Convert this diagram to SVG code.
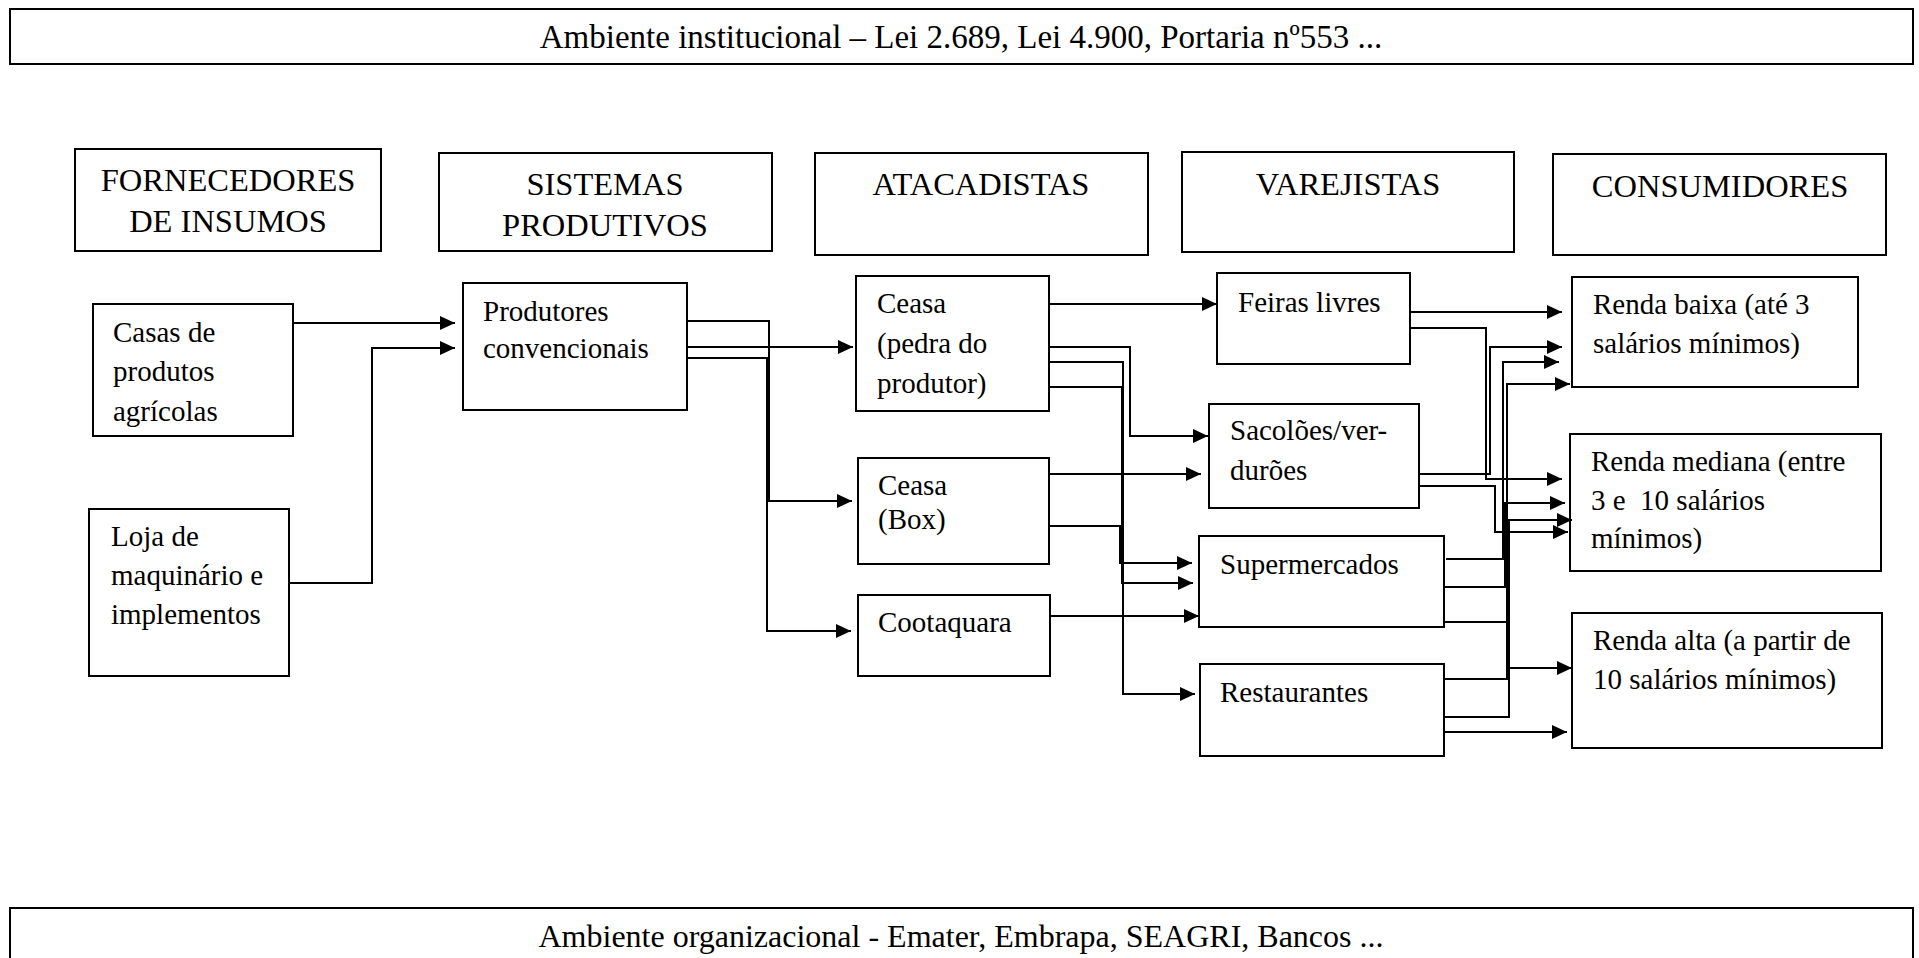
<svg xmlns="http://www.w3.org/2000/svg" width="1919" height="958" viewBox="0 0 1919 958">
<defs>
<style>
.b{fill:#fff;stroke:#000;stroke-width:2}
.t{font-family:"Liberation Serif","Times New Roman",serif;font-size:29px;fill:#000}
.h{font-family:"Liberation Serif","Times New Roman",serif;font-size:32.5px;fill:#000;text-anchor:middle}
.e{font-family:"Liberation Serif","Times New Roman",serif;fill:#000;text-anchor:middle}
.c{fill:none;stroke:#000;stroke-width:2}
.a{marker-end:url(#ar)}
</style>
<marker id="ar" markerUnits="userSpaceOnUse" markerWidth="16" markerHeight="14" refX="15" refY="7" orient="auto">
<path d="M0,0 L15,7 L0,14 z" fill="#000"/>
</marker>
</defs>
<rect width="1919" height="958" fill="#fff"/>

<g id="ambiente-institucional">
<rect class="b" x="10" y="9" width="1903" height="55"/>
<text class="e" x="961" y="48" font-size="33">Ambiente institucional – Lei 2.689, Lei 4.900, Portaria nº553 ...</text>
</g>
<g id="ambiente-organizacional">
<rect class="b" x="10" y="908" width="1903" height="70"/>
<text class="e" x="961" y="947" font-size="32">Ambiente organizacional - Emater, Embrapa, SEAGRI, Bancos ...</text>
</g>

<g id="fornecedores">
<rect class="b" x="75" y="149" width="306" height="102"/>
<text class="h" x="228" y="191">FORNECEDORES</text>
<text class="h" x="228" y="232">DE INSUMOS</text>
</g>
<g id="sistemas">
<rect class="b" x="439" y="153" width="333" height="98"/>
<text class="h" x="605" y="195">SISTEMAS</text>
<text class="h" x="605" y="236">PRODUTIVOS</text>
</g>
<g id="atacadistas">
<rect class="b" x="815" y="153" width="333" height="102"/>
<text class="h" x="981" y="195">ATACADISTAS</text>
</g>
<g id="varejistas">
<rect class="b" x="1182" y="152" width="332" height="100"/>
<text class="h" x="1348" y="195">VAREJISTAS</text>
</g>
<g id="consumidores">
<rect class="b" x="1553" y="154" width="333" height="101"/>
<text class="h" x="1720" y="197">CONSUMIDORES</text>
</g>

<g id="casas">
<rect class="b" x="93" y="304" width="200" height="132"/>
<text class="t" x="113" y="342">Casas de</text>
<text class="t" x="113" y="381">produtos</text>
<text class="t" x="113" y="421">agrícolas</text>
</g>
<g id="loja">
<rect class="b" x="89" y="509" width="200" height="167"/>
<text class="t" x="111" y="546">Loja de</text>
<text class="t" x="111" y="585">maquinário e</text>
<text class="t" x="111" y="624">implementos</text>
</g>
<g id="produtores">
<rect class="b" x="463" y="283" width="224" height="127"/>
<text class="t" x="483" y="321">Produtores</text>
<text class="t" x="483" y="358">convencionais</text>
</g>
<g id="ceasa-pedra">
<rect class="b" x="856" y="276" width="193" height="135"/>
<text class="t" x="877" y="313">Ceasa</text>
<text class="t" x="877" y="353">(pedra do</text>
<text class="t" x="877" y="393">produtor)</text>
</g>
<g id="ceasa-box">
<rect class="b" x="858" y="458" width="191" height="106"/>
<text class="t" x="878" y="495">Ceasa</text>
<text class="t" x="878" y="529">(Box)</text>
</g>
<g id="cootaquara">
<rect class="b" x="858" y="595" width="192" height="81"/>
<text class="t" x="878" y="632">Cootaquara</text>
</g>
<g id="feiras">
<rect class="b" x="1217" y="273" width="193" height="91"/>
<text class="t" x="1238" y="312">Feiras livres</text>
</g>
<g id="sacoloes">
<rect class="b" x="1209" y="404" width="210" height="104"/>
<text class="t" x="1230" y="440">Sacolões/ver-</text>
<text class="t" x="1230" y="480">durões</text>
</g>
<g id="supermercados">
<rect class="b" x="1199" y="536" width="245" height="91"/>
<text class="t" x="1220" y="574">Supermercados</text>
</g>
<g id="restaurantes">
<rect class="b" x="1200" y="664" width="244" height="92"/>
<text class="t" x="1220" y="702">Restaurantes</text>
</g>
<g id="renda-baixa">
<rect class="b" x="1572" y="277" width="286" height="110"/>
<text class="t" x="1593" y="314">Renda baixa (até 3</text>
<text class="t" x="1593" y="353">salários mínimos)</text>
</g>
<g id="renda-mediana">
<rect class="b" x="1570" y="434" width="311" height="137"/>
<text class="t" x="1591" y="471">Renda mediana (entre</text>
<text class="t" x="1591" y="510" xml:space="preserve">3 e  10 salários</text>
<text class="t" x="1591" y="548">mínimos)</text>
</g>
<g id="renda-alta">
<rect class="b" x="1572" y="613" width="310" height="135"/>
<text class="t" x="1593" y="650">Renda alta (a partir de</text>
<text class="t" x="1593" y="689">10 salários mínimos)</text>
</g>

<g id="connectors">
<path class="c a" d="M293,323 H455"/>
<path class="c a" d="M289,583 H372 V348 H455"/>
<path class="c a" d="M687,321 H769 V501 H852"/>
<path class="c a" d="M687,347 H853"/>
<path class="c a" d="M687,358 H767 V631 H851"/>
<path class="c a" d="M1049,304 H1217"/>
<path class="c a" d="M1049,347 H1130 V436 H1208"/>
<path class="c a" d="M1049,362 H1123 V694 H1195"/>
<path class="c a" d="M1049,387 H1122 V583 H1193"/>
<path class="c a" d="M1049,474 H1201"/>
<path class="c a" d="M1049,526 H1120 V563 H1192"/>
<path class="c a" d="M1050,616 H1199"/>
<path class="c a" d="M1410,312 H1562"/>
<path class="c a" d="M1410,328 H1486 V479 H1562"/>
<path class="c a" d="M1419,474 H1490 V347 H1562"/>
<path class="c a" d="M1419,486 H1495 V532 H1568"/>
<path class="c a" d="M1446,559 H1503 V362 H1559"/>
<path class="c a" d="M1444,587 H1505 V503 H1565"/>
<path class="c a" d="M1444,622 H1507 V668 H1572"/>
<path class="c a" d="M1444,679 H1507 V384 H1570"/>
<path class="c a" d="M1444,717 H1509 V520 H1572"/>
<path class="c a" d="M1444,732 H1567"/>
</g>
</svg>
